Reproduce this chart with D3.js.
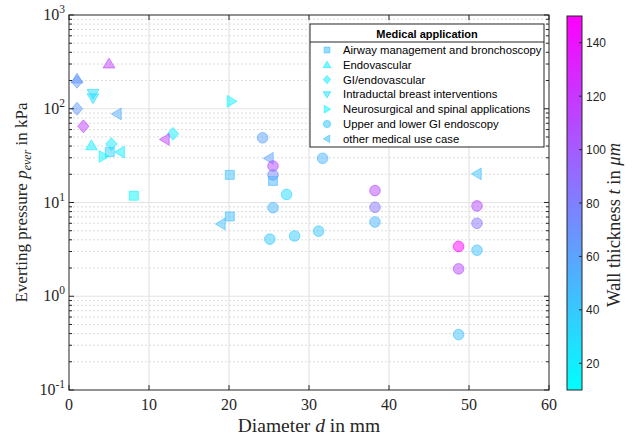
<!DOCTYPE html>
<html>
<head>
<meta charset="utf-8">
<script src="https://cdn.jsdelivr.net/npm/d3@7"></script>
<style>
  body { margin: 0; background: #fff; }
  svg { display: block; }
</style>
</head>
<body>
<div id="chart"></div>
<script>
/* Everting pressure vs diameter, coloured by wall thickness */

const categories = ["Airway management and bronchoscopy", "Endovascular", "GI/endovascular",
    "Intraductal breast interventions", "Neurosurgical and spinal applications",
    "Upper and lower GI endoscopy", "other medical use case"];
const shapes = ["square", "triUp", "diamond", "triDown", "triRight", "circle", "triLeft"];
const legendThickness = [45, 20, 20, 25, 15, 40, 45];

// one entry per point: category index, diameter (mm), pressure (kPa), wall thickness (um)
const pointCat = [1, 2, 2, 2, 1, 3, 3, 6, 1, 2, 0, 4, 6, 0, 4, 2, 6,
    0, 0, 6, 5, 6, 5, 5, 0, 5, 5, 5, 5, 5, 5,
    5, 5, 5, 6, 5, 5, 5, 5, 5, 5];
const diameter = [1, 1, 1, 1.8, 5, 3, 3, 6, 2.8, 5.3, 5.1, 4.3, 6.4, 8.1, 20.3, 13, 12,
    20.1, 20.1, 19, 24.2, 25, 25.5, 25.5, 25.5, 27.2, 25.5, 25.1, 28.2, 31.2, 31.7,
    38.25, 38.25, 38.25, 51, 51, 51, 48.7, 51, 48.7, 48.7];
const pressure = [209, 194, 100, 65, 302, 145, 130, 88, 40.5, 42, 34.5, 31, 34.5, 11.8, 120, 54, 47,
    19.7, 7.1, 5.9, 49, 29.6, 24.5, 19.7, 17, 12.2, 8.8, 4.07, 4.4, 4.95, 29.6,
    13.4, 8.9, 6.2, 20.2, 9.2, 6.0, 3.4, 3.1, 1.96, 0.39];
const thickness = [65, 65, 65, 115, 115, 28, 28, 55, 20, 20, 35, 15, 20, 15, 15, 20, 115,
    45, 45, 45, 60, 60, 110, 75, 50, 30, 50, 38, 38, 40, 50,
    110, 85, 50, 45, 110, 85, 150, 45, 110, 45];

const xTicks = [0, 10, 20, 30, 40, 50, 60];
const yTicks = [-1, 0, 1, 2, 3];           // exponents
const cTicks = [20, 40, 60, 80, 100, 120, 140];

const width = 632, height = 438,
    margin = ({top: 15, right: 83, bottom: 48, left: 69});

const svg = d3.select("#chart")
    .append("svg")
    .attr("width", width)
    .attr("height", height);

const x = d3.scaleLinear()
    .domain([0, 60])
    .range([margin.left, width - margin.right]);

const y = d3.scaleLog()
    .domain([0.1, 1000])
    .range([height - margin.bottom, margin.top]);

const color = d3.scaleSequential(d3.interpolateRgb("#00ffff", "#ff00ff"))
    .domain([10, 150]);

// marker paths, centred at 0,0
function marker(shape, r) {
    const s = r * 0.8;
    switch (shape) {
        case "square": return `M${-s},${-s}H${s}V${s}H${-s}Z`;
        case "diamond": return `M0,${-r * 1.15}L${r},0L0,${r * 1.15}L${-r},0Z`;
        case "triUp": return `M0,${-r}L${r * 1.05},${r * 0.75}L${-r * 1.05},${r * 0.75}Z`;
        case "triDown": return `M0,${r}L${r * 1.05},${-r * 0.75}L${-r * 1.05},${-r * 0.75}Z`;
        case "triRight": return `M${r},0L${-r * 0.75},${r * 1.05}L${-r * 0.75},${-r * 1.05}Z`;
        case "triLeft": return `M${-r},0L${r * 0.75},${r * 1.05}L${r * 0.75},${-r * 1.05}Z`;
        default: return `M${r},0A${r},${r} 0 1,1 ${-r},0A${r},${r} 0 1,1 ${r},0Z`;
    }
}

// grid
const grid = svg.append("g");
const minor = [];
for (let e = -1; e < 3; e++) for (let k = 2; k <= 9; k++) minor.push(k * Math.pow(10, e));

grid.selectAll(".minor").data(minor).join("line")
    .attr("x1", x(0)).attr("x2", x(60))
    .attr("y1", d => y(d)).attr("y2", d => y(d))
    .attr("stroke", "#dcdcdc").attr("stroke-dasharray", "2,2");

grid.selectAll(".ymajor").data(yTicks.slice(1, -1)).join("line")
    .attr("x1", x(0)).attr("x2", x(60))
    .attr("y1", d => y(Math.pow(10, d))).attr("y2", d => y(Math.pow(10, d)))
    .attr("stroke", "#e3e3e3").attr("stroke-width", 1.2);

grid.selectAll(".xmajor").data(xTicks.slice(1, -1)).join("line")
    .attr("x1", d => x(d)).attr("x2", d => x(d))
    .attr("y1", y(0.1)).attr("y2", y(1000))
    .attr("stroke", "#e3e3e3").attr("stroke-width", 1.2);

// points
const idx = d3.range(pointCat.length);
svg.append("g").selectAll("path").data(idx).join("path")
    .attr("transform", i => `translate(${x(diameter[i])},${y(pressure[i])})`)
    .attr("d", i => marker(shapes[pointCat[i]], shapes[pointCat[i]] == "circle" ? 5.3 : 5.6))
    .attr("fill", i => color(thickness[i]))
    .attr("fill-opacity", 0.5)
    .attr("stroke", i => color(thickness[i]))
    .attr("stroke-opacity", 0.6);

// axes box with inward ticks
const axisColor = "#262626";
const ax = svg.append("g").attr("stroke", axisColor).attr("fill", "none");
ax.append("rect")
    .attr("x", x(0)).attr("y", y(1000))
    .attr("width", x(60) - x(0)).attr("height", y(0.1) - y(1000))
    .attr("stroke-width", 1);

ax.selectAll(".xt").data(xTicks).join("path")
    .attr("d", d => `M${x(d)},${y(0.1)}v-5M${x(d)},${y(1000)}v5`);
ax.selectAll(".yt").data(yTicks).join("path")
    .attr("d", d => `M${x(0)},${y(Math.pow(10, d))}h5M${x(60)},${y(Math.pow(10, d))}h-5`);
ax.selectAll(".ym").data(minor).join("path")
    .attr("d", d => `M${x(0)},${y(d)}h3M${x(60)},${y(d)}h-3`);

// tick labels
const serif = "'Liberation Serif', 'DejaVu Serif', serif";
svg.append("g").selectAll("text").data(xTicks).join("text")
    .attr("x", d => x(d)).attr("y", y(0.1) + 20)
    .attr("text-anchor", "middle")
    .attr("font-family", serif).attr("font-size", 16).attr("fill", axisColor)
    .text(d => d);

const yl = svg.append("g").selectAll("text").data(yTicks).join("text")
    .attr("x", x(0) - 4).attr("y", d => y(Math.pow(10, d)) + 5)
    .attr("text-anchor", "end")
    .attr("font-family", serif).attr("font-size", 16).attr("fill", axisColor);
yl.append("tspan").text("10");
yl.append("tspan").attr("dy", -7).attr("font-size", 11.5).text(d => d);

// axis titles
svg.append("text")
    .attr("x", (x(0) + x(60)) / 2).attr("y", height - 6)
    .attr("text-anchor", "middle")
    .attr("font-family", serif).attr("font-size", 19.5).attr("fill", axisColor)
    .html("Diameter <tspan font-style='italic'>d</tspan> in mm");

svg.append("text")
    .attr("transform", `translate(27,${(y(0.1) + y(1000)) / 2}) rotate(-90)`)
    .attr("text-anchor", "middle")
    .attr("font-family", serif).attr("font-size", 17).attr("fill", axisColor)
    .html("Everting pressure <tspan font-style='italic'>p</tspan><tspan font-style='italic' font-size='12' dy='4'>ever</tspan><tspan dy='-4'> in kPa</tspan>");

// legend
const lg = svg.append("g").attr("transform", "translate(310,24)");
lg.append("rect")
    .attr("width", 234).attr("height", 123)
    .attr("fill", "#fff").attr("stroke", axisColor);
lg.append("line")
    .attr("x1", 0).attr("x2", 234).attr("y1", 18).attr("y2", 18)
    .attr("stroke", axisColor);
lg.append("text")
    .attr("x", 117).attr("y", 13.5)
    .attr("text-anchor", "middle")
    .attr("font-family", "'Liberation Sans', Arial, sans-serif")
    .attr("font-size", 11).attr("font-weight", "bold").attr("fill", "#000")
    .text("Medical application");

const row = lg.selectAll(".row").data(categories).join("g")
    .attr("transform", (d, i) => `translate(0,${26 + i * 14.8})`);
row.append("path")
    .attr("transform", "translate(17,0)")
    .attr("d", (d, i) => marker(shapes[i], 3.6))
    .attr("fill", (d, i) => color(legendThickness[i]))
    .attr("fill-opacity", 0.55)
    .attr("stroke", (d, i) => color(legendThickness[i]))
    .attr("stroke-opacity", 0.6);
row.append("text")
    .attr("x", 33).attr("y", 4)
    .attr("font-family", "'Liberation Sans', Arial, sans-serif")
    .attr("font-size", 11.3).attr("fill", "#000")
    .text(d => d);

// colorbar
const cb = {x: 567, w: 15};
const c = d3.scaleLinear().domain([10, 150]).range([y(0.1), margin.top + 1]);

const defs = svg.append("defs");
const grad = defs.append("linearGradient")
    .attr("id", "cbar").attr("x1", 0).attr("x2", 0).attr("y1", 1).attr("y2", 0);
grad.append("stop").attr("offset", 0).attr("stop-color", color(10));
grad.append("stop").attr("offset", 1).attr("stop-color", color(150));

svg.append("rect")
    .attr("x", cb.x).attr("y", c(150))
    .attr("width", cb.w).attr("height", c(10) - c(150))
    .attr("fill", "url(#cbar)").attr("stroke", axisColor);

svg.append("g").selectAll("path").data(cTicks).join("path")
    .attr("d", d => `M${cb.x + cb.w},${c(d)}h-3`)
    .attr("stroke", axisColor);

svg.append("g").selectAll("text").data(cTicks).join("text")
    .attr("x", cb.x + cb.w + 4).attr("y", d => c(d) + 4.5)
    .attr("font-family", "'Liberation Sans', Arial, sans-serif")
    .attr("font-size", 12).attr("fill", axisColor)
    .text(d => d);

svg.append("text")
    .attr("transform", `translate(620,${(c(10) + c(150)) / 2 + 22}) rotate(-90)`)
    .attr("text-anchor", "middle")
    .attr("font-family", serif).attr("font-size", 18.5).attr("fill", axisColor)
    .html("Wall thickness <tspan font-style='italic'>t</tspan> in <tspan font-style='italic'>μm</tspan>");
</script>
</body>
</html>
